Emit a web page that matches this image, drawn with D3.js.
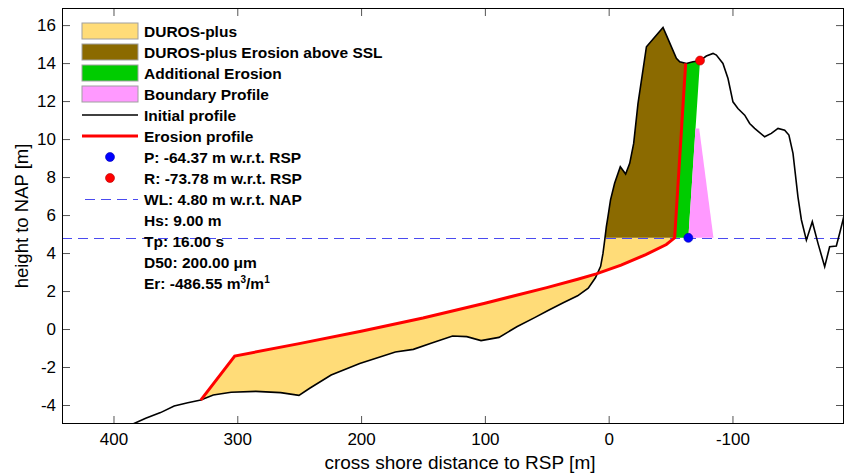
<!DOCTYPE html>
<html lang="en">
<head>
<meta charset="UTF-8">
<title>DUROS-plus erosion profile</title>
<script src="https://cdn.jsdelivr.net/npm/d3@7"></script>
<style>
  body { margin: 0; background: #fff; }
  text { font-family: "Liberation Sans", Arial, sans-serif; }
  .tick line { stroke: #555; }
  .tick text { font-size: 17px; fill: #000; }
  .legend text { font-size: 15.5px; font-weight: bold; }
</style>
</head>
<body>
<div id="chart"></div>
<script>
// initial profile (cross shore distance, height)
const profileX = [384.3, 374, 362, 351, 340, 329.5, 319.4, 305, 285, 265, 250.2, 241.5, 224.2, 201.1, 172.3, 157.8, 143.5, 126.1, 114.6, 103.1, 88.6, 74.2, 59.8, 48.2, 36.7, 25.1, 16.5, 10.7, 6.5, 4.6, 3.2, 1.9, 0.6, -1.5, -4.8, -9.4, -13.7, -17.0, -20.2, -23.7, -27.7, -30.5, -38.5, -43.9, -46.6, -54.7, -57.4, -62.8, -68.1, -73.5, -78.9, -84.3, -87.0, -92.3, -96.4, -100.4, -104.4, -109.9, -113.9, -117.9, -126.0, -131.4, -136.8, -142.2, -145.6, -148.9, -152.9, -155.7, -159.7, -164.5, -169.1, -174.5, -178.5, -183.9, -186.6, -190.6];
const profileZ = [-5.0, -4.7, -4.4, -4.05, -3.88, -3.74, -3.47, -3.33, -3.28, -3.35, -3.49, -3.12, -2.42, -1.81, -1.21, -1.07, -0.75, -0.37, -0.40, -0.61, -0.44, 0.12, 0.60, 1.0, 1.38, 1.75, 2.15, 2.70, 3.30, 3.98, 4.68, 5.38, 5.91, 6.8, 7.67, 8.54, 8.16, 8.72, 9.77, 11.88, 13.63, 14.86, 15.47, 15.88, 15.47, 14.25, 14.07, 13.98, 14.07, 14.12, 14.37, 14.51, 14.42, 13.98, 13.19, 11.96, 11.61, 11.26, 10.82, 10.56, 10.12, 10.30, 10.56, 10.47, 10.21, 9.25, 6.96, 5.74, 4.68, 5.65, 4.51, 3.28, 4.33, 4.37, 5.04, 6.09];

// DUROS-plus erosion profile
const erosionX = [329.5, 302.1, 250, 200, 150, 100, 50, 25, 10, -10, -30, -46.6, -53.3, -62.2];
const erosionZ = [-3.74, -1.42, -0.77, -0.12, 0.58, 1.36, 2.18, 2.62, 2.90, 3.36, 3.92, 4.45, 4.80, 13.98];

// boundary profile
const boundaryX = [-64.37, -70.13, -73.13, -84.65];
const boundaryZ = [4.8, 10.56, 10.56, 4.8];

const pointP = -64.37;
const pointR = -73.78;
const waterLevel = 4.8;

const xTicks = [400, 300, 200, 100, 0, -100];
const yTicks = [-4, -2, 0, 2, 4, 6, 8, 10, 12, 14, 16];

const patchLabels = ["DUROS-plus", "DUROS-plus Erosion above SSL", "Additional Erosion", "Boundary Profile"];
const patchColors = ["#ffdc78", "#8b6a00", "#00cc00", "#ff99ff"];
const lineLabels = ["Initial profile", "Erosion profile"];
const pointLabels = ["P: -64.37 m w.r.t. RSP", "R: -73.78 m w.r.t. RSP"];
const infoLabels = ["WL: 4.80 m w.r.t. NAP", "Hs: 9.00 m", "Tp: 16.00 s", "D50: 200.00 \u03bcm"];

const W = 845, H = 476;
const box = { left: 62, top: 8, right: 844, bottom: 424 };
const wlColor = "#4a4af0";

const svg = d3.select("#chart").append("svg")
    .attr("width", W)
    .attr("height", H);

const x = d3.scaleLinear().domain([441.6, -190.1]).range([box.left, box.right]);
const y = d3.scaleLinear().domain([-5, 16.9]).range([box.bottom, box.top]);

svg.append("clipPath").attr("id", "plotclip")
  .append("rect")
    .attr("x", box.left).attr("y", box.top)
    .attr("width", box.right - box.left).attr("height", box.bottom - box.top);

const profile = profileX.map((d, i) => [d, profileZ[i]]);
const erosion = erosionX.map((d, i) => [d, erosionZ[i]]);
const boundary = boundaryX.map((d, i) => [d, boundaryZ[i]]);

function profileAt(xv) {
  for (let i = 1; i < profile.length; i++) {
    const a = profile[i - 1], b = profile[i];
    if ((a[0] - xv) * (b[0] - xv) <= 0) {
      const t = (xv - a[0]) / (b[0] - a[0]);
      return a[1] + t * (b[1] - a[1]);
    }
  }
  return NaN;
}

// where the initial profile first rises through the water level
let crossX = 0;
for (let i = 1; i < profile.length; i++) {
  if (profile[i][1] >= waterLevel && profile[i - 1][1] < waterLevel) {
    const a = profile[i - 1], b = profile[i];
    crossX = a[0] + (waterLevel - a[1]) / (b[1] - a[1]) * (b[0] - a[0]);
    break;
  }
}
const toeIdx = erosion.findIndex(p => p[1] >= waterLevel);
const toe = erosion[toeIdx];
const topPt = erosion[erosion.length - 1];
const rZ = profileAt(pointR);

const yellowPoly = profile.filter(p => p[0] > crossX && p[0] <= erosion[0][0])
  .concat([[crossX, waterLevel], toe], erosion.slice(0, toeIdx).reverse());
const brownPoly = [[crossX, waterLevel]]
  .concat(profile.filter(p => p[0] < crossX && p[0] > topPt[0]), [topPt, toe]);
const greenPoly = [toe, topPt]
  .concat(profile.filter(p => p[0] < topPt[0] && p[0] > pointR), [[pointR, rZ], [pointP, waterLevel]]);

const line = d3.line().x(d => x(d[0])).y(d => y(d[1]));

const plot = svg.append("g").attr("clip-path", "url(#plotclip)");

const polys = [yellowPoly, brownPoly, greenPoly, boundary];
plot.selectAll(".area")
  .data(polys)
  .enter()
  .append("path")
    .attr("class", "area")
    .attr("d", d => line(d) + "Z")
    .attr("fill", (d, i) => patchColors[i])
    .attr("stroke", "none");

// keep the dashed line on a whole pixel so it stays crisp
const wlY = Math.round(y(waterLevel)) + 0.5;
plot.append("line")
    .attr("x1", box.left).attr("x2", box.right)
    .attr("y1", wlY).attr("y2", wlY)
    .attr("stroke", wlColor)
    .attr("stroke-width", 1)
    .attr("stroke-dasharray", "10,6");

plot.append("path")
    .attr("d", line(profile))
    .attr("fill", "none")
    .attr("stroke", "#000")
    .attr("stroke-width", 1.6);

plot.append("path")
    .attr("d", line(erosion))
    .attr("fill", "none")
    .attr("stroke", "#ff0000")
    .attr("stroke-width", 3);

plot.append("circle")
    .attr("cx", x(pointP)).attr("cy", y(waterLevel)).attr("r", 4.5)
    .attr("fill", "#0000ff").attr("stroke", "#0000b0").attr("stroke-width", 0.6);
plot.append("circle")
    .attr("cx", x(pointR)).attr("cy", y(rZ)).attr("r", 4.5)
    .attr("fill", "#ff0000").attr("stroke", "#b00000").attr("stroke-width", 0.6);

// axes, ticks inside on all sides
const plain = d => String(d);
svg.append("g")
    .attr("transform", `translate(0,${box.bottom})`)
    .call(d3.axisBottom(x).tickValues(xTicks).tickFormat(plain).tickSizeInner(-8).tickSizeOuter(0).tickPadding(9))
    .call(g => g.select(".domain").remove());
svg.append("g")
    .attr("transform", `translate(0,${box.top})`)
    .call(d3.axisTop(x).tickValues(xTicks).tickSizeInner(-8).tickSizeOuter(0).tickFormat(""))
    .call(g => g.select(".domain").remove());
svg.append("g")
    .attr("transform", `translate(${box.left},0)`)
    .call(d3.axisLeft(y).tickValues(yTicks).tickFormat(plain).tickSizeInner(-8).tickSizeOuter(0).tickPadding(6))
    .call(g => g.select(".domain").remove());
svg.append("g")
    .attr("transform", `translate(${box.right},0)`)
    .call(d3.axisRight(y).tickValues(yTicks).tickSizeInner(-8).tickSizeOuter(0).tickFormat(""))
    .call(g => g.select(".domain").remove());

svg.append("rect")
    .attr("x", box.left + 0.5).attr("y", box.top + 0.5)
    .attr("width", box.right - box.left - 1).attr("height", box.bottom - box.top - 1)
    .attr("fill", "none")
    .attr("stroke", "#000")
    .attr("stroke-width", 1);

svg.append("text")
    .attr("x", (box.left + box.right) / 2 + 7)
    .attr("y", 469)
    .attr("text-anchor", "middle")
    .style("font-size", "19px")
    .text("cross shore distance to RSP [m]");

svg.append("text")
    .attr("transform", `translate(28,${(box.top + box.bottom) / 2}) rotate(-90)`)
    .attr("text-anchor", "middle")
    .style("font-size", "18.5px")
    .text("height to NAP [m]");

// legend
const legend = svg.append("g").attr("class", "legend");
const rowY = i => 31 + i * 21;
const lx0 = 82, lx1 = 138, tx = 144;

patchLabels.forEach((lab, i) => {
  legend.append("rect")
      .attr("x", lx0).attr("y", rowY(i) - 8)
      .attr("width", lx1 - lx0).attr("height", 16)
      .attr("fill", patchColors[i])
      .attr("stroke", "#a0a0a0");
  legend.append("text").attr("x", tx).attr("y", rowY(i) + 5.5).text(lab);
});

const lineColors = ["#000", "#ff0000"];
const lineWidths = [1.6, 3];
lineLabels.forEach((lab, i) => {
  const r = rowY(4 + i);
  legend.append("line")
      .attr("x1", lx0).attr("x2", lx1).attr("y1", r).attr("y2", r)
      .attr("stroke", lineColors[i]).attr("stroke-width", lineWidths[i]);
  legend.append("text").attr("x", tx).attr("y", r + 5.5).text(lab);
});

const dotColors = [["#0000ff", "#0000b0"], ["#ff0000", "#b00000"]];
pointLabels.forEach((lab, i) => {
  const r = rowY(6 + i);
  legend.append("circle")
      .attr("cx", (lx0 + lx1) / 2).attr("cy", r).attr("r", 4.5)
      .attr("fill", dotColors[i][0]).attr("stroke", dotColors[i][1]).attr("stroke-width", 0.6);
  legend.append("text").attr("x", tx).attr("y", r + 5.5).text(lab);
});

legend.append("line")
    .attr("x1", lx0 + 3).attr("x2", lx1).attr("y1", rowY(8) + 0.5).attr("y2", rowY(8) + 0.5)
    .attr("stroke", wlColor).attr("stroke-dasharray", "10,6");

infoLabels.forEach((lab, i) => {
  legend.append("text").attr("x", tx).attr("y", rowY(8 + i) + 5.5).text(lab);
});

const er = legend.append("text").attr("x", tx).attr("y", rowY(12) + 5.5);
er.append("tspan").text("Er: -486.55 m");
er.append("tspan").attr("dy", -6).style("font-size", "10px").text("3");
er.append("tspan").attr("dy", 6).text("/m");
er.append("tspan").attr("dy", -6).style("font-size", "10px").text("1");
</script>
</body>
</html>
